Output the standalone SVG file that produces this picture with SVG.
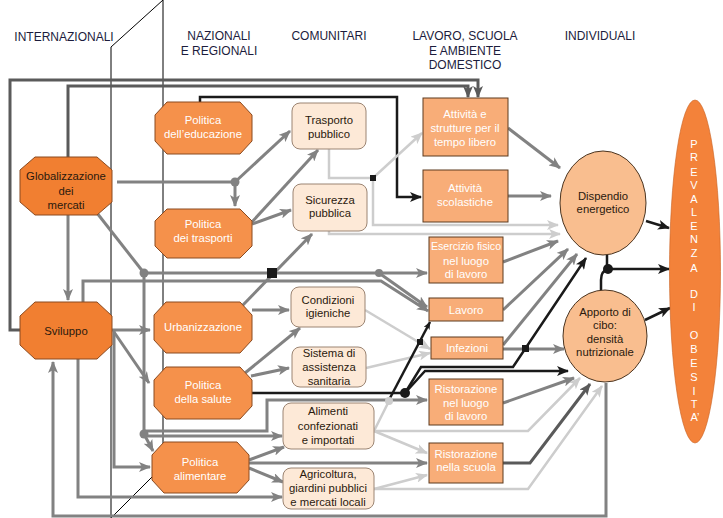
<svg xmlns="http://www.w3.org/2000/svg" width="723" height="518" viewBox="0 0 723 518">
<defs>
<marker id="ag" viewBox="0 0 12 10" refX="11" refY="5" markerWidth="12" markerHeight="10" markerUnits="userSpaceOnUse" orient="auto"><path d="M0,0 L12,5 L0,10 L3,5 z" fill="#828282"/></marker>
<marker id="ad" viewBox="0 0 12 10" refX="11" refY="5" markerWidth="12" markerHeight="10" markerUnits="userSpaceOnUse" orient="auto"><path d="M0,0 L12,5 L0,10 L3,5 z" fill="#5a5a5a"/></marker>
<marker id="al" viewBox="0 0 12 10" refX="11" refY="5" markerWidth="12" markerHeight="10" markerUnits="userSpaceOnUse" orient="auto"><path d="M0,0 L12,5 L0,10 L3,5 z" fill="#cdcdcd"/></marker>
<marker id="ak" viewBox="0 0 12 10" refX="11" refY="5" markerWidth="12" markerHeight="10" markerUnits="userSpaceOnUse" orient="auto"><path d="M0,0 L12,5 L0,10 L3,5 z" fill="#1a1a1a"/></marker>
<marker id="ak2" viewBox="0 0 12 10" refX="11" refY="5" markerWidth="8" markerHeight="7" markerUnits="userSpaceOnUse" orient="auto"><path d="M0,0 L12,5 L0,10 L3,5 z" fill="#1a1a1a"/></marker>
</defs>
<style>
.hd{font-family:"Liberation Sans",Arial,sans-serif;font-size:12px;fill:#1c1c3c;text-anchor:middle}
.t{font-family:"Liberation Sans",Arial,sans-serif;font-size:11.3px;text-anchor:middle}
.dk{fill:#2b1a0e}
.wh{fill:#ffffff}
.n1{fill:#f17f31;stroke:#8a4a20;stroke-width:1}
.n2{fill:#f5914b;stroke:#8a4a20;stroke-width:1}
.n3{fill:#fde9d7;stroke:#9b8472;stroke-width:1}
.n4{fill:#f8ad78;stroke:#5c3a1e;stroke-width:1}
.n5{fill:#f9be8f;stroke:#4a3420;stroke-width:1}
.g{fill:none;stroke:#828282;stroke-width:3}
.d{fill:none;stroke:#5a5a5a;stroke-width:3}
.l{fill:none;stroke:#cdcdcd;stroke-width:2.5}
.k{fill:none;stroke:#1a1a1a;stroke-width:2.5}
.fr{fill:none;stroke:#000;stroke-width:1}
.pl{font-family:"Liberation Sans",Arial,sans-serif;font-size:11px;fill:#fff;text-anchor:middle}
</style>
<rect width="723" height="518" fill="#fff"/>
<path class="fr" d="M111,47 L163,0 V466 L111,518 Z"/>
<g id="headers">
<text class="hd" x="64" y="41">INTERNAZIONALI</text>
<text class="hd" x="219" y="40">NAZIONALI</text>
<text class="hd" x="219" y="55">E REGIONALI</text>
<text class="hd" x="329" y="40">COMUNITARI</text>
<text class="hd" x="465" y="40">LAVORO, SCUOLA</text>
<text class="hd" x="465" y="55">E AMBIENTE</text>
<text class="hd" x="465" y="69">DOMESTICO</text>
<text class="hd" x="600" y="40">INDIVIDUALI</text>
</g>
<g id="connectors">
<path class="d" d="M20,330 H10 V80 H478 V97" marker-end="url(#ad)"/>
<path class="d" d="M68,157 V86 H468 V97" marker-end="url(#ad)"/>
<path class="k" d="M200,102 V97 H397 V197 H421" marker-end="url(#ak)"/>
<path class="g" d="M117,182 H235"/>
<path class="g" d="M235,182 V206" marker-end="url(#ag)"/>
<path class="g" stroke-width="2.5" d="M235,182 L290,131" marker-end="url(#ag)"/>
<path class="g" d="M68,215 V300" marker-end="url(#ag)"/>
<path class="g" d="M97,213 L144,273"/>
<path class="g" d="M144,273 H427" marker-end="url(#ag)"/>
<path class="g" stroke-width="2.5" d="M379,273 L427,307" marker-end="url(#ag)"/>
<path class="g" stroke-width="2.5" d="M144,273 V434"/>
<path class="g" stroke-width="2.5" d="M144,436 H282" marker-end="url(#ag)"/>
<path class="g" stroke-width="2.5" d="M144,434 L153,451" marker-end="url(#ag)"/>
<path class="g" stroke-width="2.5" d="M144,431 H267 V400 H427" marker-end="url(#ag)"/>
<path class="g" d="M112,330 H150" marker-end="url(#ag)"/>
<path class="g" d="M114,332 L149,383" marker-end="url(#ag)"/>
<path class="g" stroke-width="2.5" d="M114,330 V467 H150" marker-end="url(#ag)"/>
<path class="g" stroke-width="2.5" d="M83,302 V281 H381 L428,311" marker-end="url(#ag)"/>
<path class="g" stroke-width="2.5" d="M78,359 V497 H282" marker-end="url(#ag)"/>
<path class="g" stroke-width="2.5" d="M606,383 V516 H53 V362" marker-end="url(#ag)"/>
<path class="g" stroke-width="3.5" d="M252,222 L318,150" marker-end="url(#ag)"/>
<path class="g" d="M252,224 L291,210" marker-end="url(#ag)"/>
<path class="g" d="M242,306 L312,234" marker-end="url(#ag)"/>
<path class="g" d="M252,310 H289" marker-end="url(#ag)"/>
<path class="g" d="M245,373 L300,328" marker-end="url(#ag)"/>
<path class="g" d="M251,376 L289,368" marker-end="url(#ag)"/>
<path class="g" d="M249,460 L284,447" marker-end="url(#ag)"/>
<path class="g" d="M249,463 H427" marker-end="url(#ag)"/>
<path class="g" d="M249,468 L283,482" marker-end="url(#ag)"/>
<path class="l" d="M329,149 V178 H373 L422,133" marker-end="url(#al)"/>
<path class="l" d="M373,178 V225 H558" marker-end="url(#al)"/>
<path class="l" d="M329,231 V234 H560" marker-end="url(#al)"/>
<path class="l" d="M365,310 L430,349" marker-end="url(#al)"/>
<path class="l" d="M366,368 L430,353" marker-end="url(#al)"/>
<path class="l" d="M374,431 L389,401"/>
<path class="l" d="M374,431 H528 L580,378" marker-end="url(#al)"/>
<path class="l" d="M374,431 L427,453" marker-end="url(#al)"/>
<path class="l" d="M374,489 L427,475" marker-end="url(#al)"/>
<path class="l" d="M374,489 H528 L602,386" marker-end="url(#al)"/>
<path class="g" stroke-width="2.5" d="M508,128 L560,168" marker-end="url(#ag)"/>
<path class="g" stroke-width="3.5" d="M508,196 H551" marker-end="url(#ag)"/>
<path class="g" stroke-width="2.5" d="M503,262 L558,241" marker-end="url(#ag)"/>
<path class="g" stroke-width="2" d="M503,310 L568,249" marker-end="url(#ag)"/>
<path class="g" stroke-width="2" d="M503,345 L577,254" marker-end="url(#ag)"/>
<path class="g" stroke-width="2" d="M503,349 H564" marker-end="url(#ag)"/>
<path class="g" stroke-width="2.5" d="M503,403 L574,378" marker-end="url(#ag)"/>
<path class="d" stroke-width="2.5" d="M503,463 H530 L590,384" marker-end="url(#ad)"/>
<path class="k" stroke-width="3.5" d="M252,393 H405"/>
<path class="k" d="M405,393 L421,367 H513 L586,258" marker-end="url(#ak)"/>
<path class="k" d="M405,393 L425,371 H568" marker-end="url(#ak)"/>
<path class="k" stroke-width="1" d="M390,398 L430,322" marker-end="url(#ak2)"/>
<path class="k" d="M646,221 L669,228" marker-end="url(#ak)"/>
<path class="k" d="M607,255 V269 H669" marker-end="url(#ak)"/>
<path class="k" d="M601,290 V280 Q601,271 608,269"/>
<path class="k" d="M645,320 L670,308" marker-end="url(#ak)"/>
<circle cx="235" cy="182" r="4.5" fill="#828282"/>
<circle cx="144" cy="273" r="4.5" fill="#828282"/>
<circle cx="379" cy="273" r="4" fill="#828282"/>
<circle cx="144" cy="434" r="4.5" fill="#828282"/>
<circle cx="389" cy="401" r="4" fill="#cdcdcd"/>
<circle cx="405" cy="393" r="5" fill="#1a1a1a"/>
<circle cx="608" cy="269" r="5" fill="#1a1a1a"/>
<rect x="267" y="268" width="10" height="10" fill="#1a1a1a"/>
<rect x="370" y="175" width="6" height="6" fill="#1a1a1a"/>
<rect x="417" y="339" width="6" height="6" fill="#1a1a1a"/>
<rect x="522" y="345" width="7" height="7" fill="#1a1a1a"/>
</g>
<g id="globalizzazione">
<polygon class="n1" points="35,157 97,157 112,170 112,202 97,215 35,215 20,202 20,170"/>
<text class="t dk" x="66" y="180">Globalizzazione</text>
<text class="t dk" x="66" y="195">dei</text>
<text class="t dk" x="66" y="209">mercati</text>
</g>
<g id="sviluppo">
<polygon class="n1" points="35,302 97,302 112,316 112,345 97,359 35,359 20,345 20,316"/>
<text class="t dk" x="66" y="335">Sviluppo</text>
</g>
<g id="politica-educazione">
<polygon class="n2" points="167,102 240,102 252,115 252,141 240,154 167,154 155,141 155,115"/>
<text class="t wh" x="203" y="124">Politica</text>
<text class="t wh" x="203" y="138">dell’educazione</text>
</g>
<g id="politica-trasporti">
<polygon class="n2" points="167,209 240,209 252,221 252,246 240,258 167,258 155,246 155,221"/>
<text class="t wh" x="203" y="228">Politica</text>
<text class="t wh" x="203" y="242">dei trasporti</text>
</g>
<g id="urbanizzazione">
<polygon class="n2" points="166,302 240,302 252,315 252,340 240,353 166,353 154,340 154,315"/>
<text class="t wh" x="203" y="331">Urbanizzazione</text>
</g>
<g id="politica-salute">
<polygon class="n2" points="166,367 240,367 252,380 252,406 240,419 166,419 154,406 154,380"/>
<text class="t wh" x="203" y="389">Politica</text>
<text class="t wh" x="203" y="403">della salute</text>
</g>
<g id="politica-alimentare">
<polygon class="n2" points="164,442 237,442 249,455 249,480 237,493 164,493 152,480 152,455"/>
<text class="t wh" x="200" y="466">Politica</text>
<text class="t wh" x="200" y="480">alimentare</text>
</g>
<g id="trasporto-pubblico">
<rect class="n3" x="292" y="103" width="74" height="46" rx="8"/>
<text class="t dk" x="329" y="124">Trasporto</text>
<text class="t dk" x="329" y="138">pubblico</text>
</g>
<g id="sicurezza-pubblica">
<rect class="n3" x="293" y="184" width="74" height="47" rx="8"/>
<text class="t dk" x="330" y="204">Sicurezza</text>
<text class="t dk" x="330" y="217">pubblica</text>
</g>
<g id="condizioni-igieniche">
<rect class="n3" x="291" y="287" width="74" height="40" rx="8"/>
<text class="t dk" x="328" y="304">Condizioni</text>
<text class="t dk" x="328" y="317">igieniche</text>
</g>
<g id="sistema-assistenza">
<rect class="n3" x="292" y="347" width="74" height="40" rx="8"/>
<text class="t dk" x="329" y="357">Sistema di</text>
<text class="t dk" x="329" y="371">assistenza</text>
<text class="t dk" x="329" y="385">sanitaria</text>
</g>
<g id="alimenti">
<rect class="n3" x="283" y="403" width="91" height="46" rx="8"/>
<text class="t dk" x="328" y="415">Alimenti</text>
<text class="t dk" x="328" y="430">confezionati</text>
<text class="t dk" x="328" y="444">e importati</text>
</g>
<g id="agricoltura">
<rect class="n3" x="283" y="468" width="91" height="41" rx="8"/>
<text class="t dk" x="328" y="478">Agricoltura,</text>
<text class="t dk" x="328" y="492">giardini pubblici</text>
<text class="t dk" x="328" y="506">e mercati locali</text>
</g>
<g id="attivita-tempo-libero">
<rect class="n4" x="423" y="98" width="85" height="58"/>
<text class="t wh" x="465" y="118">Attività e</text>
<text class="t wh" x="465" y="132">strutture per il</text>
<text class="t wh" x="465" y="146">tempo libero</text>
</g>
<g id="attivita-scolastiche">
<rect class="n4" x="423" y="170" width="85" height="52"/>
<text class="t wh" x="465" y="192">Attività</text>
<text class="t wh" x="465" y="206">scolastiche</text>
</g>
<g id="esercizio-fisico">
<rect class="n4" x="429" y="237" width="74" height="46"/>
<text class="t wh" x="466" y="250" style="font-size:10.6px">Esercizio fisico</text>
<text class="t wh" x="466" y="265">nel luogo</text>
<text class="t wh" x="466" y="278">di lavoro</text>
</g>
<g id="lavoro">
<rect class="n4" x="429" y="298" width="74" height="23"/>
<text class="t wh" x="466" y="314">Lavoro</text>
</g>
<g id="infezioni">
<rect class="n4" x="431" y="337" width="72" height="22"/>
<text class="t wh" x="467" y="352">Infezioni</text>
</g>
<g id="ristorazione-lavoro">
<rect class="n4" x="429" y="379" width="74" height="46"/>
<text class="t wh" x="466" y="393">Ristorazione</text>
<text class="t wh" x="466" y="407">nel luogo</text>
<text class="t wh" x="466" y="420">di lavoro</text>
</g>
<g id="ristorazione-scuola">
<rect class="n4" x="429" y="443" width="74" height="40"/>
<text class="t wh" x="466" y="458">Ristorazione</text>
<text class="t wh" x="466" y="471">nella scuola</text>
</g>
<g id="dispendio">
<ellipse class="n5" cx="603" cy="203" rx="43" ry="52"/>
<text class="t dk" x="603" y="200">Dispendio</text>
<text class="t dk" x="603" y="213">energetico</text>
</g>
<g id="apporto">
<ellipse class="n5" cx="605" cy="336" rx="42" ry="46"/>
<text class="t dk" x="605" y="316">Apporto di</text>
<text class="t dk" x="605" y="329">cibo:</text>
<text class="t dk" x="605" y="343">densità</text>
<text class="t dk" x="605" y="356">nutrizionale</text>
</g>
<g id="prevalenza">
<ellipse cx="695" cy="271.5" rx="25.5" ry="171.5" fill="#f3823a" stroke="#c86020" stroke-width="0.6"/>
<text class="pl" x="694" y="148">P</text>
<text class="pl" x="694" y="161">R</text>
<text class="pl" x="694" y="176">E</text>
<text class="pl" x="694" y="189">V</text>
<text class="pl" x="694" y="203">A</text>
<text class="pl" x="694" y="216">L</text>
<text class="pl" x="694" y="230">E</text>
<text class="pl" x="694" y="243">N</text>
<text class="pl" x="694" y="257">Z</text>
<text class="pl" x="694" y="272">A</text>
<text class="pl" x="694" y="298">D</text>
<text class="pl" x="694" y="311">I</text>
<text class="pl" x="694" y="339">O</text>
<text class="pl" x="694" y="353">B</text>
<text class="pl" x="694" y="367">E</text>
<text class="pl" x="694" y="381">S</text>
<text class="pl" x="694" y="395">I</text>
<text class="pl" x="694" y="408">T</text>
<text class="pl" x="695" y="421">A’</text>
</g>
</svg>
